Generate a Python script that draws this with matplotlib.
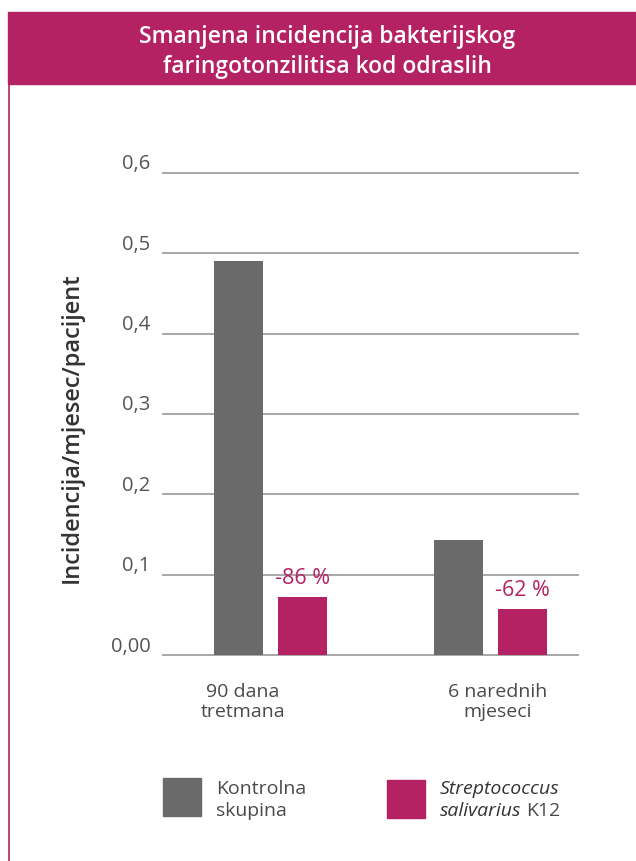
import matplotlib
matplotlib.use("Agg")
import matplotlib.pyplot as plt
import matplotlib.transforms as mtransforms
from matplotlib.patches import Rectangle
from matplotlib.lines import Line2D
import numpy as np

plt.rcParams['font.family'] = ['Open Sans', 'DejaVu Sans']

# ---- data ----
title = "Smanjena incidencija bakterijskog\nfaringotonzilitisa kod odraslih"
categories = ["90 dana\ntretmana", "6 narednih\nmjeseci"]
control = [0.49, 0.143]
k12 = [0.072, 0.057]
reductions = ["-86 %", "-62 %"]
yticks = [0.0, 0.1, 0.2, 0.3, 0.4, 0.5, 0.6]
ytick_labels = ["0,00", "0,1", "0,2", "0,3", "0,4", "0,5", "0,6"]
ylabel = "Incidencija/mjesec/pacijent"
legend_control = ["Kontrolna", "skupina"]

GREY = "#6a6a6b"
MAG = "#b52263"
TXT = "#4a4a4a"
GRID = "#a0a0a0"

W, H = 636, 861
fig = plt.figure(figsize=(W / 100, H / 100), dpi=100)

def fx(px):
    return px / W

def fy(py):
    return 1 - py / H

# banner
fig.patches.append(Rectangle((fx(8), fy(84)), 1 - fx(8), (84 - 12) / H,
                             transform=fig.transFigure, color=MAG, zorder=0))
fig.text(fx(327), fy(52), title, color="white", fontsize=16.5, fontweight="semibold",
         ha="center", va="center", linespacing=1.3)
# left border line
fig.lines.append(Line2D([fx(9), fx(9)], [0, fy(84)], transform=fig.transFigure,
                        color=MAG, linewidth=1.2))

# axes
ax = fig.add_axes([fx(163), fy(655.3), fx(578) - fx(163), (655.3 - 172.7) / H])
x = np.arange(len(categories))
bw = 0.2227
off = 0.145
ax.bar(x - off, control, width=bw, color=GREY, zorder=3)
bars_k = ax.bar(x + off, k12, width=bw, color=MAG, zorder=3)
ax.set_xlim(-0.489, 1.398)
ax.set_ylim(0, 0.6)
for yv in yticks:
    ax.axhline(yv, color=GRID, linewidth=1.3, zorder=1, clip_on=False)
for s in ax.spines.values():
    s.set_visible(False)
ax.set_xticks([])
ax.set_yticks(yticks)
ax.set_yticklabels(ytick_labels, fontsize=14.5, color="#555555")
ax.tick_params(axis="y", length=0, pad=9)
shift = mtransforms.ScaledTranslation(0, 11 / 100, fig.dpi_scale_trans)
for lab in ax.get_yticklabels():
    lab.set_transform(lab.get_transform() + shift)

for b, r in zip(bars_k, reductions):
    ax.annotate(r, (b.get_x() + b.get_width() / 2, b.get_height()),
                xytext=(0, 9.5), textcoords="offset points", ha="center",
                va="baseline", color=MAG, fontsize=15.5)

# category labels
cat_px = [243, 498]
for c, px in zip(categories, cat_px):
    fig.text(fx(px), fy(683), c, ha="center", va="top", fontsize=14,
             color=TXT, linespacing=1.15)

# y label
fig.text(fx(72), fy(428), ylabel, rotation=90, ha="center", va="center",
         fontsize=17, fontweight="semibold", color="#333333")

# legend
fig.patches.append(Rectangle((fx(163), fy(816)), 38 / W, 38 / H,
                             transform=fig.transFigure, color=GREY))
fig.patches.append(Rectangle((fx(387), fy(818)), 38 / W, 38 / H,
                             transform=fig.transFigure, color=MAG))
fig.text(fx(216), fy(794), legend_control[0], ha="left", va="baseline",
         fontsize=14, color=TXT)
fig.text(fx(216), fy(815.5), legend_control[1], ha="left", va="baseline",
         fontsize=14, color=TXT)
fig.text(fx(440), fy(794), "Streptococcus", ha="left", va="baseline",
         fontsize=14, color="#333333", style="italic")
t2 = fig.text(fx(440), fy(815.5), "salivarius", ha="left", va="baseline",
              fontsize=14, color="#333333", style="italic")
fig.canvas.draw()
bb = t2.get_window_extent()
fig.text((bb.x1 + 5) / W, fy(815.5), "K12", ha="left", va="baseline",
         fontsize=14, color=TXT)

fig.savefig("out.png", dpi=100)
